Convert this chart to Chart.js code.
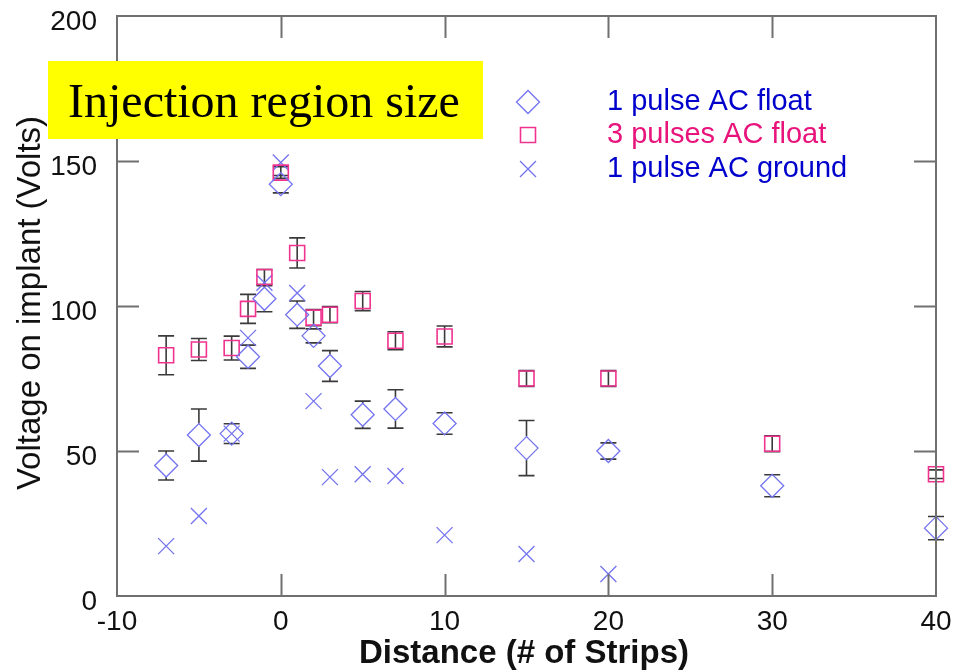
<!DOCTYPE html>
<html>
<head>
<meta charset="utf-8">
<title>Injection region size</title>
<script src="https://cdn.jsdelivr.net/npm/chart.js@4.4.1/dist/chart.umd.min.js"></script>
<style>
  html, body { margin: 0; padding: 0; background: #fff; }
  canvas { display: block; }
</style>
</head>
<body>
<canvas id="voltageChart" width="965" height="671"></canvas>
<script>
// strip distances (x) and measured implant voltages (y)
const distances = [-7, -5, -3, -2, -1, 0, 1, 2, 3, 5, 7, 10, 15, 20, 30, 40];
const groundDistances = [-7, -5, -3, -2, -1, 0, 1, 2, 3, 5, 7, 10, 15, 20];

const pulse1Float = [45, 55.5, 56, 82.5, 102.5, 142, 97, 89.7, 79.3, 62.5, 64.5, 59.5, 51, 50, 38, 23.4];
const pulse1FloatErr = [5, 9, 3.4, 4, 4.5, 3, 4.7, 2.4, 5.3, 4.7, 6.6, 3.7, 9.5, 2.8, 3.8, 4];

const pulse3Float = [83, 85, 85.5, 99, 110, 146, 118.3, 96, 97, 101.7, 88, 89.5, 75, 75, 52.5, 42];
const pulse3FloatErr = [6.7, 3.8, 4.1, 5, 2.6, 2, 5.2, 2.8, 2.8, 3.3, 3.1, 3.6, 2.7, 2.7, 2.7, 1.5];

const pulse1Ground = [17.2, 27.6, 56, 89, 108, 149.5, 104.5, 67.2, 41, 42, 41.4, 21, 14.5, 7.6];

const xTicks = [-10, 0, 10, 20, 30, 40];
const yTicks = [0, 50, 100, 150, 200];

const seriesNames = ['1 pulse AC float', '3 pulses AC float', '1 pulse AC ground'];
const legendColors = ['#0000cc', '#e8147c', '#0000cc'];

const BLUE = '#7373f0';
const PINK = '#f0338f';
const SANS = '"Liberation Sans", Arial, sans-serif';

function toPoints(xs, ys) {
  return xs.map((x, i) => ({ x: x, y: ys[i] }));
}

// vertical error bars with end caps; diamonds leave a gap over the marker
const errorBars = {
  id: 'errorBars',
  beforeDatasetsDraw(chart) {
    const ctx = chart.ctx;
    const xs = chart.scales.x, ys = chart.scales.y;
    const sets = [
      { vals: pulse1Float, errs: pulse1FloatErr, gap: 11.5 },
      { vals: pulse3Float, errs: pulse3FloatErr, gap: 0 }
    ];
    ctx.save();
    ctx.strokeStyle = '#3a3a3a';
    ctx.lineWidth = 1.6;
    sets.forEach(s => {
      s.vals.forEach((v, i) => {
        const px = xs.getPixelForValue(distances[i]);
        const py = ys.getPixelForValue(v);
        const top = ys.getPixelForValue(v + s.errs[i]);
        const bot = ys.getPixelForValue(v - s.errs[i]);
        ctx.beginPath();
        if (s.gap && py - top > s.gap) {
          ctx.moveTo(px, top); ctx.lineTo(px, py - s.gap);
          ctx.moveTo(px, py + s.gap); ctx.lineTo(px, bot);
        } else if (!s.gap) {
          ctx.moveTo(px, top); ctx.lineTo(px, bot);
        }
        ctx.moveTo(px - 8, top); ctx.lineTo(px + 8, top);
        ctx.moveTo(px - 8, bot); ctx.lineTo(px + 8, bot);
        ctx.stroke();
      });
    });
    ctx.restore();
  }
};

// frame, inward ticks, tick labels, axis titles, legend and caption box
const decorations = {
  id: 'decorations',
  afterDraw(chart) {
    const ctx = chart.ctx;
    const a = chart.chartArea;
    const xs = chart.scales.x, ys = chart.scales.y;
    ctx.save();

    ctx.strokeStyle = '#707070';
    ctx.lineWidth = 2;
    ctx.strokeRect(a.left, a.top, a.right - a.left, a.bottom - a.top);

    ctx.beginPath();
    xTicks.slice(1, -1).forEach(t => {
      const px = Math.round(xs.getPixelForValue(t)) + 0.5;
      ctx.moveTo(px, a.bottom); ctx.lineTo(px, a.bottom - 22);
      ctx.moveTo(px, a.top); ctx.lineTo(px, a.top + 22);
    });
    yTicks.slice(1, -1).forEach(t => {
      const py = Math.round(ys.getPixelForValue(t)) + 0.5;
      ctx.moveTo(a.left, py); ctx.lineTo(a.left + 22, py);
      ctx.moveTo(a.right, py); ctx.lineTo(a.right - 22, py);
    });
    ctx.stroke();

    ctx.fillStyle = '#111';
    ctx.font = '28px ' + SANS;
    ctx.textBaseline = 'middle';
    ctx.textAlign = 'right';
    yTicks.forEach(t => ctx.fillText(String(t), 97, ys.getPixelForValue(t) + 6));
    ctx.textAlign = 'center';
    xTicks.forEach(t => ctx.fillText(String(t), xs.getPixelForValue(t), 622));

    ctx.font = 'bold 33px ' + SANS;
    ctx.fillText('Distance (# of Strips)', 524, 654);

    ctx.save();
    ctx.translate(31, 303);
    ctx.rotate(-Math.PI / 2);
    ctx.font = '33px ' + SANS;
    ctx.fillText('Voltage on implant (Volts)', 0, 0);
    ctx.restore();

    // legend
    const rows = [102, 135, 169];
    chart.data.datasets.forEach((d, i) => {
      ctx.strokeStyle = d.borderColor;
      ctx.fillStyle = 'rgba(0,0,0,0)';
      ctx.lineWidth = d.borderWidth;
      Chart.helpers.drawPoint(ctx, {
        pointStyle: d.pointStyle, radius: d.pointRadius, rotation: 0, borderWidth: d.borderWidth
      }, 528, rows[i]);
      ctx.fillStyle = legendColors[i];
      ctx.font = '29px ' + SANS;
      ctx.textAlign = 'left';
      ctx.fillText(seriesNames[i], 607, rows[i]);
    });

    // caption box
    ctx.fillStyle = '#ffff00';
    ctx.fillRect(48, 61, 435, 78);
    ctx.fillStyle = '#000';
    ctx.font = '48px "Liberation Serif", "Times New Roman", serif';
    ctx.textBaseline = 'alphabetic';
    ctx.textAlign = 'left';
    ctx.fillText('Injection region size', 68, 117);

    ctx.restore();
  }
};

const ctx = document.getElementById('voltageChart').getContext('2d');

const voltageChart = new Chart(ctx, {
  type: 'scatter',
  data: {
    datasets: [{
      label: seriesNames[0],
      data: toPoints(distances, pulse1Float),
      pointStyle: 'rectRot',
      pointRadius: 11.5,
      borderColor: BLUE,
      backgroundColor: 'rgba(0,0,0,0)',
      borderWidth: 1.3,
      clip: false
    }, {
      label: seriesNames[1],
      data: toPoints(distances, pulse3Float),
      pointStyle: 'rect',
      pointRadius: 10.6,
      borderColor: PINK,
      backgroundColor: 'rgba(0,0,0,0)',
      borderWidth: 1.6,
      clip: false
    }, {
      label: seriesNames[2],
      data: toPoints(groundDistances, pulse1Ground),
      pointStyle: 'crossRot',
      pointRadius: 11.3,
      borderColor: BLUE,
      backgroundColor: 'rgba(0,0,0,0)',
      borderWidth: 1.3,
      clip: false
    }]
  },
  options: {
    responsive: false,
    animation: false,
    events: [],
    layout: { padding: { left: 117, right: 29, top: 16, bottom: 75 } },
    plugins: {
      legend: { display: false },
      tooltip: { enabled: false }
    },
    scales: {
      x: { type: 'linear', min: -10, max: 40, display: false },
      y: { type: 'linear', min: 0, max: 200, display: false }
    }
  },
  plugins: [errorBars, decorations]
});
</script>
</body>
</html>
